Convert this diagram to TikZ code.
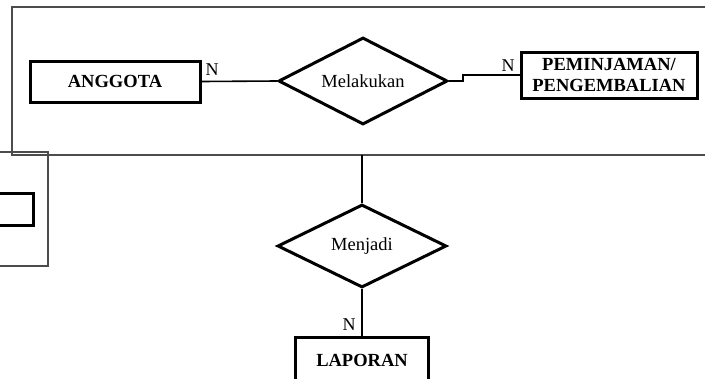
\documentclass[tikz,border=0pt]{standalone}
\usepackage{fontspec}
\setmainfont{Liberation Serif}
\usetikzlibrary{shapes.geometric}
\begin{document}
\begin{tikzpicture}[x=1pt,y=-1pt,
  entity/.style={draw,line width=3pt,inner sep=0pt,font=\fontsize{18.5}{22}\selectfont\bfseries,align=center},
  relation/.style={draw,diamond,aspect=2,line width=3pt,inner sep=0pt,font=\fontsize{18.5}{22}\selectfont},
  conn/.style={line width=1.6pt},
  frame/.style={draw=black!70,line width=1.1pt},
  card/.style={inner sep=0pt,font=\fontsize{18}{22}\selectfont}]
\clip (0,0) rectangle (705,378);
\fill[white] (0,0) rectangle (705,378);
% grey frames
\draw[frame] (12,7) rectangle (712,155);
\draw[frame] (-5,152) rectangle (48,266);
\node[draw,line width=3pt,minimum width=50pt,minimum height=32pt,inner sep=0pt] (leftbox) at (8,209) {};
% entities
\node[entity,minimum width=170pt,minimum height=41pt] (anggota) at (115,81.5) {ANGGOTA};
\node[entity,minimum width=176pt,minimum height=46pt] (pinjam) at (609,75) {PEMINJAMAN/\\[-1pt]PENGEMBALIAN};
\node[entity,minimum width=133pt,minimum height=46pt] (laporan) at (362,360) {LAPORAN};
% relations
\node[relation,minimum width=169pt,minimum height=87pt] (melakukan) at (363,81) {Melakukan};
\node[relation,minimum width=169pt,minimum height=83pt] (menjadi) at (362,246) {Menjadi};
% connectors
\coordinate (top) at (362,155);
\coordinate (k1) at (463,81);
\coordinate (k2) at (463,75);
\draw[conn] (anggota.east) -- (melakukan.west);
\draw[conn] (melakukan.east) -- (k1) -- (k2) -- (pinjam.west);
\draw[conn] (top) -- (menjadi.north);
\draw[conn] (menjadi.south) -- (laporan.north);
% cardinalities
\node[card] (n1) at (212,70) {N};
\node[card] (n2) at (508,66) {N};
\node[card] (n3) at (349,324.5) {N};
\end{tikzpicture}
\end{document}
